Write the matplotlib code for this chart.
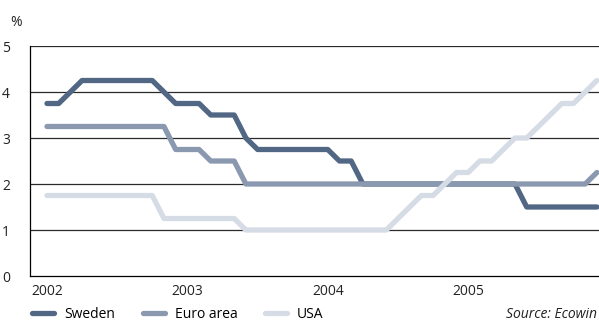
import matplotlib
matplotlib.use("Agg")
import matplotlib.pyplot as plt
from matplotlib.lines import Line2D

plt.rcParams['font.family'] = ['Open Sans', 'DejaVu Sans']

# monthly policy rates, Jan 2002 - Dec 2005
sweden = [3.75, 3.75, 4.0, 4.25, 4.25, 4.25, 4.25, 4.25, 4.25, 4.25, 4.0, 3.75,
          3.75, 3.75, 3.5, 3.5, 3.5, 3.0, 2.75, 2.75, 2.75, 2.75, 2.75, 2.75,
          2.75, 2.5, 2.5, 2.0, 2.0, 2.0, 2.0, 2.0, 2.0, 2.0, 2.0, 2.0,
          2.0, 2.0, 2.0, 2.0, 2.0, 1.5, 1.5, 1.5, 1.5, 1.5, 1.5, 1.5]
euro_area = [3.25, 3.25, 3.25, 3.25, 3.25, 3.25, 3.25, 3.25, 3.25, 3.25, 3.25, 2.75,
             2.75, 2.75, 2.5, 2.5, 2.5, 2.0, 2.0, 2.0, 2.0, 2.0, 2.0, 2.0,
             2.0, 2.0, 2.0, 2.0, 2.0, 2.0, 2.0, 2.0, 2.0, 2.0, 2.0, 2.0,
             2.0, 2.0, 2.0, 2.0, 2.0, 2.0, 2.0, 2.0, 2.0, 2.0, 2.0, 2.25]
usa = [1.75, 1.75, 1.75, 1.75, 1.75, 1.75, 1.75, 1.75, 1.75, 1.75, 1.25, 1.25,
       1.25, 1.25, 1.25, 1.25, 1.25, 1.0, 1.0, 1.0, 1.0, 1.0, 1.0, 1.0,
       1.0, 1.0, 1.0, 1.0, 1.0, 1.0, 1.25, 1.5, 1.75, 1.75, 2.0, 2.25,
       2.25, 2.5, 2.5, 2.75, 3.0, 3.0, 3.25, 3.5, 3.75, 3.75, 4.0, 4.25]
years = ['2002', '2003', '2004', '2005']
y_ticks = [0, 1, 2, 3, 4, 5]

names = ['Sweden', 'Euro area', 'USA']
colors = ['#516784', '#8a99b0', '#d6dce6']

months = list(range(len(sweden)))

fig = plt.figure(figsize=(5.99, 3.22), dpi=100)
ax = fig.add_axes([30 / 599, 1 - 276 / 322, 569 / 599, 230 / 322])

for series, c in zip([sweden, euro_area, usa], colors):
    ax.plot(months, series, color=c, lw=3.8, solid_capstyle='round',
            solid_joinstyle='round', zorder=3)

ax.set_xlim(-1.45, 47.18)
ax.set_ylim(0, 5)

# horizontal rules
for v in y_ticks[1:]:
    ax.axhline(v, color='#2a2a2a', lw=0.9, zorder=1)

ax.spines['right'].set_visible(False)
ax.spines['top'].set_visible(False)
ax.spines['left'].set_linewidth(0.9)
ax.spines['bottom'].set_linewidth(0.9)

ax.set_yticks(y_ticks)
ax.set_yticklabels([str(v) for v in y_ticks], fontsize=10, color='#222222',
                   ha='left')
ax.tick_params(axis='y', length=0, pad=20)

ax.set_xticks([12 * k for k in range(len(years))])
ax.set_xticklabels(years, fontsize=10, color='#222222')
ax.tick_params(axis='x', length=0, pad=6)

fig.text(10 / 599, 1 - 22 / 322, '%', fontsize=10, color='#222222',
         va='center', ha='left')

handles = [Line2D([0], [0], color=c, lw=3.8, solid_capstyle='round')
           for c in colors]
fig.legend(handles, names, loc='center left',
           bbox_to_anchor=(32 / 599, 1 - 314 / 322), ncol=3, frameon=False,
           fontsize=10, handlelength=1.6, handletextpad=0.7,
           columnspacing=2.0, borderpad=0, borderaxespad=0)

fig.text(597 / 599, 1 - 314 / 322, 'Source: Ecowin', fontsize=10,
         style='italic', color='#222222', ha='right', va='center')

fig.savefig('out.png', dpi=100)
